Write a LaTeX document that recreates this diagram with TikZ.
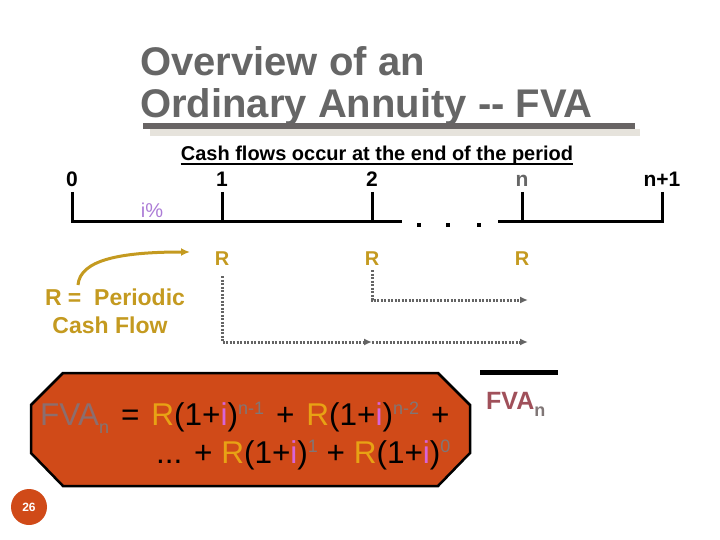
\documentclass[tikz,border=0pt]{standalone}
\usepackage{fontspec}
\setmainfont{Liberation Sans}
\usepackage{tikz}
\usetikzlibrary{positioning, arrows.meta}
\usepackage{xcolor}

\definecolor{titlegray}{RGB}{102,102,102}
\definecolor{bargray}{RGB}{104,100,100}
\definecolor{barlight}{RGB}{230,227,220}
\definecolor{gold}{RGB}{196,154,32}
\definecolor{rgold}{RGB}{232,162,20}
\definecolor{lilac}{RGB}{172,124,214}
\definecolor{pinki}{RGB}{216,100,216}
\definecolor{boxred}{RGB}{208,74,24}
\definecolor{fvared}{RGB}{160,80,90}
\definecolor{fvamauve}{RGB}{140,110,110}
\definecolor{expgray}{RGB}{128,118,118}
\definecolor{flowgray}{RGB}{100,100,100}

\newcommand{\upx}[1]{\raisebox{0.33em}{\fontsize{18}{18}\selectfont\textcolor{expgray}{#1}}}
\newcommand{\lowx}[1]{\raisebox{-0.28em}{\fontsize{18}{18}\selectfont\textcolor{expgray}{#1}}}
\newcommand{\Rc}{\textcolor{rgold}{R}}
\newcommand{\ic}{\textcolor{pinki}{i}}
\newcommand{\wsp}{\hspace{0.38em}}

\begin{document}
\begin{tikzpicture}[x=1pt, y=-1pt,
    title/.style={inner sep=0pt, anchor=base west, text=titlegray, font=\fontsize{40}{48}\selectfont\bfseries},
    ticklabel/.style={inner sep=0pt, anchor=base, font=\fontsize{21}{24}\selectfont\bfseries},
    rlabel/.style={inner sep=0pt, anchor=base, text=gold, font=\fontsize{20}{24}\selectfont\bfseries},
    goldtext/.style={inner sep=0pt, anchor=base, text=gold, font=\fontsize{23}{28}\selectfont\bfseries},
    flow/.style={draw=flowgray, line width=3pt, dash pattern=on 2pt off 1.5pt, -{Latex[length=8pt,width=7pt]}},
    formula/.style={inner sep=0pt, anchor=base west, font=\fontsize{31.5}{36}\selectfont}]

    \useasboundingbox (0,0) rectangle (720,540);

    % Title
    \node[title] (title1) at (140,76) {Overview of an};
    \node[title] (title2) at (140,118) {Ordinary Annuity {-}{-} FVA};
    \fill[barlight] (150,129) rectangle (640,136);
    \fill[bargray] (143,123) rectangle (635,129);

    % Subtitle
    \node[inner sep=0pt, anchor=base, font=\fontsize{20}{24}\selectfont\bfseries] (sub) at (377,161)
        {Cash flows occur at the end of the period};
    \draw[line width=1.5pt] ([yshift=-3pt]sub.base west) -- ([yshift=-3pt]sub.base east);

    % Time line
    \foreach \x/\lab/\nm/\col in {72/0/t0/black, 222/1/t1/black, 372/2/t2/black, 522/n/tn/titlegray, 662/n+1/tm/black} {
        \node[ticklabel, text=\col] (\nm) at (\x,187) {\lab};
        \draw[line width=3pt] (\x,192) -- (\x,223.5);
    }
    \draw[line width=3pt] (72,222) -- (402,222);
    \draw[line width=3pt] (498,222) -- (662,222);
    \foreach \x in {419,448,479}
        \fill (\x-2,223) rectangle (\x+2,227);
    \node[inner sep=0pt, anchor=base, text=lilac, font=\fontsize{20}{24}\selectfont] (rate) at (152,218) {i\%};

    % Payments
    \node[rlabel] (r1) at (222,265) {R};
    \node[rlabel] (r2) at (372,265) {R};
    \node[rlabel] (rn) at (522,265) {R};

    \coordinate (e2) at (528,300);
    \coordinate (m1) at (372,342);
    \coordinate (e1) at (528,342);
    \draw[flow] ([yshift=-5pt]r2.south) |- (e2);
    \draw[flow] ([yshift=-11pt]r1.south) |- (m1);
    \draw[flow] (m1) -- (e1);

    % Periodic cash flow note
    \node[goldtext] (periodic1) at (115,305) {R = \ Periodic};
    \node[goldtext] (periodic2) at (110,333) {Cash Flow};
    \coordinate (cs) at (78,285);
    \coordinate (ce) at (190,252);
    \draw[gold, line width=3pt, -{Latex[length=9pt,width=8pt]}] (cs) .. controls (80,260) and (120,252) .. (ce);

    % Future value
    \draw[line width=5pt] (480,372) -- (558,372);
    \node[inner sep=0pt, anchor=base west, text=fvared, font=\fontsize{25}{30}\selectfont\bfseries] (fva) at (486,409)
        {FVA\lowx{n}};

    % Formula box
    \filldraw[fill=boxred, draw=black, line width=2.5pt]
        (63,373) -- (438,373) -- (470,405) -- (470,453) -- (438,486) -- (63,486) -- (31,453) -- (31,405) -- cycle;
    \node[formula] (eq1) at (40,425)
        {\textcolor{fvamauve}{FVA}\lowx{n}\wsp=\wsp\Rc(1+\ic)\upx{n-1}\wsp+\wsp\Rc(1+\ic)\upx{n-2}\wsp+};
    \node[formula] (eq2) at (156,463)
        {... + \Rc(1+\ic)\upx{1} + \Rc(1+\ic)\upx{0}};

    % Page number
    \node[circle, fill=boxred, minimum size=36pt, inner sep=0pt, text=white, font=\fontsize{12}{12}\selectfont\bfseries] (page) at (29,507) {26};
\end{tikzpicture}
\end{document}
